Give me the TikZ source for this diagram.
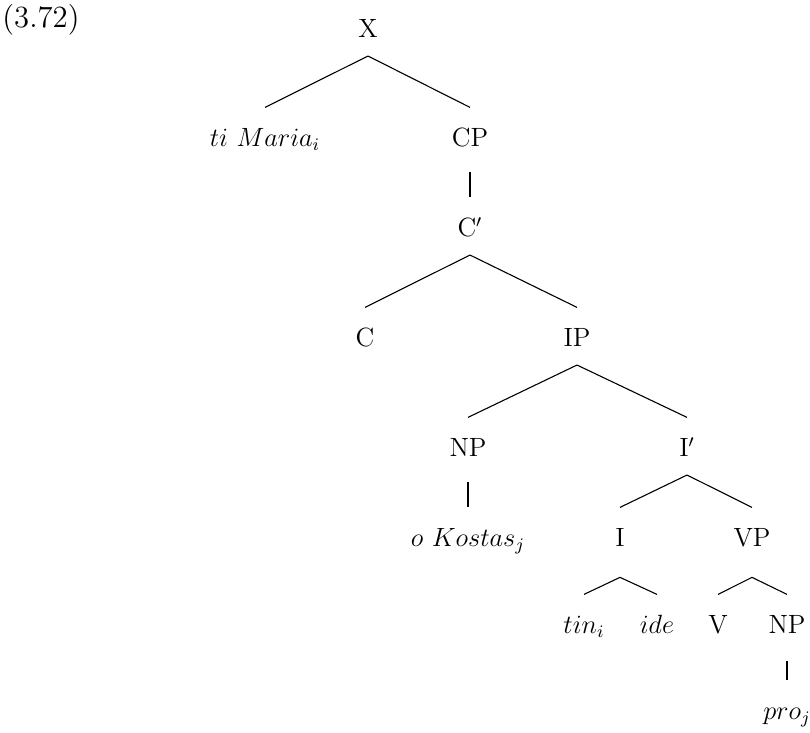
\documentclass[tikz,border=0pt]{standalone}

\tikzset{
	cat/.style={anchor=base, font={\fontsize{12}{14}\selectfont}, text height=9.8pt, text depth=0pt, inner xsep=1pt, inner ysep=8pt},
	branch/.style={line width=0.5pt},
	unary/.style={line width=1.2pt, shorten <=3pt}
}

\begin{document}
\begin{tikzpicture}[x=0.4545pt, y=-0.4545pt]
			
			%Frame
			\useasboundingbox (0,0) rectangle (810,733);
			\node (ex) at (2,28) [anchor=base west, inner sep=0pt, font={\fontsize{14}{16}\selectfont}]{(3.72)};
			
			%Top of the tree
			\node (X) at (368,38) [cat]{X};
			\node (Maria) at (265,147) [cat]{$ti$ $Maria_i$};
			\node (CP) at (470,147) [cat]{CP};
			\node (Cbar) at (470,237) [cat]{C$'$};
			
			%Complementizer level
			\node (C) at (365,347) [cat]{C};
			\node (IP) at (577,347) [cat]{IP};
			\node (NP) at (468,457) [cat]{NP};
			\node (Ibar) at (687,457) [cat]{I$'$};
			
			%Lower levels
			\node (Kostas) at (468,547) [cat]{$o$ $Kostas_j$};
			\node (I) at (620,547) [cat]{I};
			\node (VP) at (752,547) [cat]{VP};
			\node (tin) at (584,634) [cat]{$tin_i$};
			\node (ide) at (657,634) [cat]{$ide$};
			\node (V) at (718,634) [cat]{V};
			\node (NPobj) at (787,634) [cat]{NP};
			\node (pro) at (787,720) [cat]{$pro_j$};
			
			%Branches
			\draw[branch] (X.south) -- (Maria.north);
			\draw[branch] (X.south) -- (CP.north);
			\draw[unary] (CP.south) -- (Cbar.north);
			\draw[branch] (Cbar.south) -- (C.north);
			\draw[branch] (Cbar.south) -- (IP.north);
			\draw[branch] (IP.south) -- (NP.north);
			\draw[branch] (IP.south) -- (Ibar.north);
			\draw[unary] (NP.south) -- (Kostas.north);
			\draw[branch] (Ibar.south) -- (I.north);
			\draw[branch] (Ibar.south) -- (VP.north);
			\draw[branch] ([yshift=-5.6pt]I.south) -- (tin.north);
			\draw[branch] ([yshift=-5.6pt]I.south) -- (ide.north);
			\draw[branch] ([yshift=-5.6pt]VP.south) -- (V.north);
			\draw[branch] ([yshift=-5.6pt]VP.south) -- (NPobj.north);
			\draw[unary, shorten <=4pt] (NPobj.south) -- (pro.north);
			
\end{tikzpicture}
\end{document}
